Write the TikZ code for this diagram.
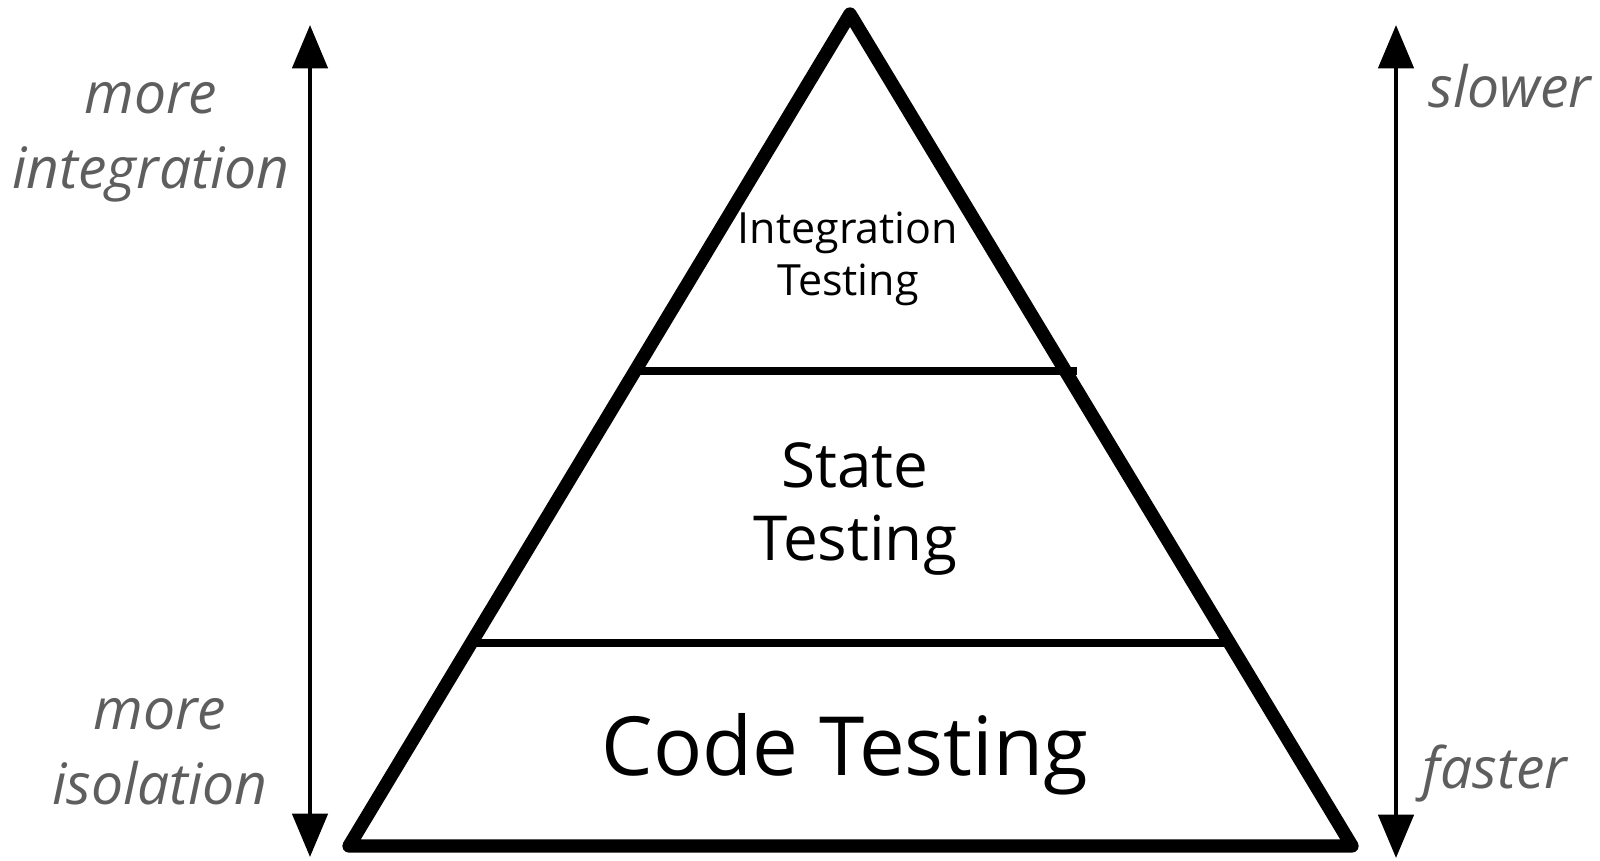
\documentclass[tikz,border=0pt]{standalone}
\usepackage{fontspec}
\setmainfont{Open Sans}
\usetikzlibrary{arrows.meta}
\definecolor{labelgray}{HTML}{5E5E5E}

\begin{document}
\begin{tikzpicture}[x=0.3pt,y=-0.3pt,
    layer/.style={line width=2.4pt},
    tierlabel/.style={align=center,inner sep=0pt},
    sidelabel/.style={align=center,inner sep=0pt,text=labelgray,font=\itshape\fontsize{17.1}{22.5}\selectfont},
    scalearrow/.style={line width=1.4pt,{Triangle[width=10.5pt,length=13pt]}-{Triangle[width=10.5pt,length=13pt]}}]
    \useasboundingbox (0,0) rectangle (1600,860);
    % pyramid corners
    \coordinate (top) at (850,14);
    \coordinate (bl) at (349,846);
    \coordinate (br) at (1352,846);
    \draw[line width=4pt,line join=round] (top) -- (bl) -- (br) -- cycle; % outline
    % dividing lines
    \coordinate (s1l) at (640,371);
    \coordinate (s1r) at (1077,371);
    \coordinate (s2l) at (472,643);
    \coordinate (s2r) at (1229,643);
    \draw[layer] (s1l) -- (s1r);
    \draw[layer] (s2l) -- (s2r);
    % tier names
    \node[tierlabel,font=\fontsize{12.9}{15.6}\selectfont] (integ) at (848,259) {Integration\\Testing};
    \node[tierlabel,font=\fontsize{18.6}{21.9}\selectfont] (state) at (855,509) {State\\Testing};
    \node[tierlabel,font=\fontsize{24.5}{30}\selectfont,anchor=base] (code) at (845,775) {Code Testing};
    % scale arrows
    \coordinate (lup) at (310,25);
    \coordinate (ldown) at (310,857);
    \coordinate (rup) at (1396,25);
    \coordinate (rdown) at (1396,858);
    \draw[scalearrow] (ldown) -- (lup);
    \draw[scalearrow] (rdown) -- (rup);
    % scale labels
    \node[sidelabel] (moreint) at (151,142) {more\\integration};
    \node[sidelabel] (moreiso) at (160,752) {more\\isolation};
    \node[sidelabel,anchor=base west] (slow) at (1428,107) {slower};
    \node[sidelabel,anchor=base west] (fast) at (1422,788) {faster};
\end{tikzpicture}
\end{document}
